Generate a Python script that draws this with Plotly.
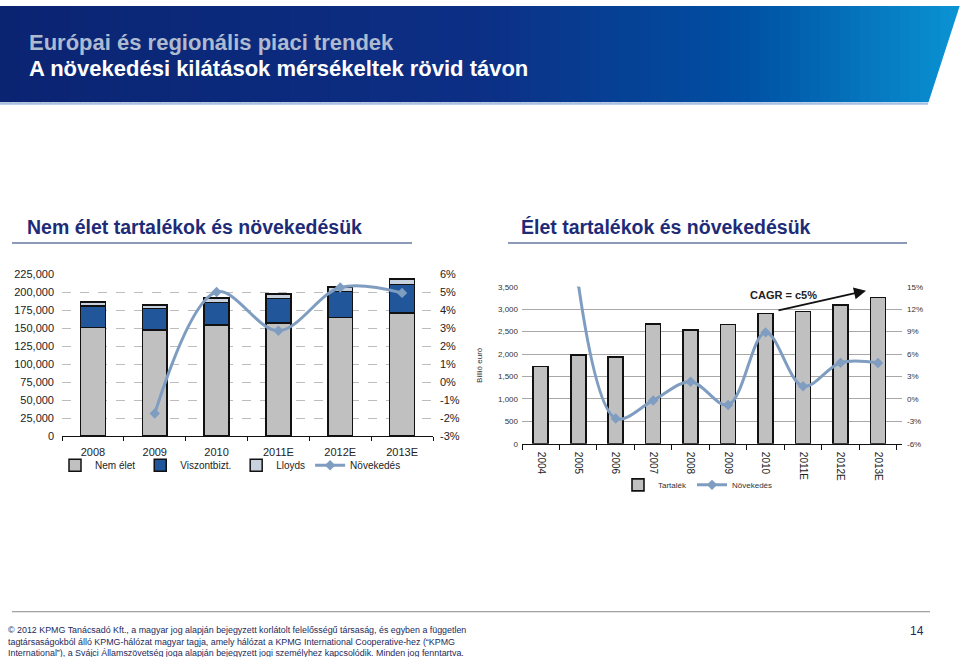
import plotly.graph_objects as go
from plotly.colors import sample_colorscale

# ---------------- data ----------------
left_years = ["2008", "2009", "2010", "2011E", "2012E", "2013E"]
nem_elet = [150400, 147300, 154500, 156800, 164500, 170900]
viszontbizt = [30500, 30000, 31000, 34500, 36000, 39500]
lloyds = [5000, 5000, 6000, 6000, 6800, 7400]
left_growth_years = ["2009", "2010", "2011E", "2012E", "2013E"]
left_growth = [-1.75, 5.0, 2.85, 5.25, 4.95]
left_pct_ticks = [-3, -2, -1, 0, 1, 2, 3, 4, 5, 6]
left_pct_labels = ["-3%", "-2%", "-1%", "0%", "1%", "2%", "3%", "4%", "5%", "6%"]

right_years = ["2004", "2005", "2006", "2007", "2008", "2009", "2010", "2011E", "2012E", "2013E"]
tartalek = [1720, 1985, 1940, 2670, 2540, 2655, 2905, 2945, 3100, 3260]
right_growth_years = ["2005", "2006", "2007", "2008", "2009", "2010", "2011E", "2012E", "2013E"]
right_growth = [15.5, -2.6, -0.2, 2.3, -0.8, 8.9, 1.7, 4.85, 4.8]
right_pct_ticks = [-6, -3, 0, 3, 6, 9, 12, 15]
right_pct_labels = ["-6%", "-3%", "0%", "3%", "6%", "9%", "12%", "15%"]

W, H = 960, 657
def px(x):
    return x / W
def py(y):
    return 1 - y / H

FONT = "Arial, Liberation Sans, sans-serif"
LINE_COL = "#7f9dc0"

fig = go.Figure()

# ---------------- left chart ----------------
fig.add_trace(go.Bar(x=left_years, y=nem_elet, name="Nem élet", marker=dict(color="#c0c0c0", line=dict(color="#111", width=1.5)),
                     xaxis="x", yaxis="y", legend="legend"))
fig.add_trace(go.Bar(x=left_years, y=viszontbizt, name="Viszontbizt.", marker=dict(color="#21579a", line=dict(color="#111", width=1.5)),
                     xaxis="x", yaxis="y", legend="legend"))
fig.add_trace(go.Bar(x=left_years, y=lloyds, name="Lloyds", marker=dict(color="#c8d2df", line=dict(color="#111", width=1.5)),
                     xaxis="x", yaxis="y", legend="legend"))
fig.add_trace(go.Scatter(x=left_growth_years, y=left_growth, name="Növekedés", mode="lines+markers",
                         line=dict(color=LINE_COL, width=3, shape="spline", smoothing=1),
                         marker=dict(symbol="diamond", size=8, color=LINE_COL),
                         xaxis="x", yaxis="y2", legend="legend"))

# ---------------- right chart ----------------
fig.add_trace(go.Bar(x=right_years, y=tartalek, name="Tartalék", marker=dict(color="#c0c0c0", line=dict(color="#111", width=1.6)),
                     xaxis="x2", yaxis="y3", legend="legend2"))
fig.add_trace(go.Scatter(x=right_growth_years, y=right_growth, name="Növekedés", mode="lines+markers",
                         line=dict(color=LINE_COL, width=3, shape="spline", smoothing=1),
                         marker=dict(symbol="diamond", size=8, color=LINE_COL),
                         xaxis="x2", yaxis="y4", legend="legend2"))

tickfont_l = dict(family=FONT, size=11, color="#222")
tickfont_r = dict(family=FONT, size=8, color="#333")

fig.update_layout(
    width=W, height=H, margin=dict(l=0, r=0, t=0, b=0),
    paper_bgcolor="white", plot_bgcolor="rgba(0,0,0,0)",
    barmode="stack", bargap=0.6,
    font=dict(family=FONT),
    xaxis=dict(domain=[px(62), px(433)], type="category", showline=True, linecolor="#111", linewidth=1,
               ticks="outside", tickson="boundaries", ticklen=4, tickcolor="#111", tickfont=tickfont_l,
               ticklabelstandoff=6, showgrid=False),
    yaxis=dict(domain=[py(438), py(273)], range=[0, 225000], dtick=25000, tickformat=",",
               showgrid=True, gridcolor="#bdbdbd", griddash="dash", gridwidth=1, zeroline=False,
               tickfont=tickfont_l, ticks="", showline=False, anchor="x", ticklabelstandoff=7),
    yaxis2=dict(overlaying="y", side="right", range=[-3, 6], tickvals=left_pct_ticks, ticktext=left_pct_labels,
                showgrid=False, zeroline=False, tickfont=tickfont_l, anchor="x", ticklabelstandoff=6),
    xaxis2=dict(domain=[px(522), px(902)], type="category", showline=True, linecolor="#111", linewidth=1,
                ticks="outside", tickson="boundaries", ticklen=5, tickcolor="#111", tickangle=90,
                tickfont=dict(family=FONT, size=10, color="#222"), showgrid=False, anchor="y3",
                ticklabelstandoff=5),
    yaxis3=dict(domain=[py(446), py(286)], range=[0, 3500], dtick=500, tickformat=",",
                showgrid=True, gridcolor="#a8a8a8", gridwidth=1, zeroline=False, tickfont=tickfont_r,
                anchor="x2", ticklabelstandoff=3,
                title=dict(text="Billió euró", font=dict(family=FONT, size=8, color="#333"), standoff=14)),
    yaxis4=dict(overlaying="y3", side="right", range=[-6, 15], tickvals=right_pct_ticks, ticktext=right_pct_labels,
                showgrid=False, zeroline=False, tickfont=tickfont_r, anchor="x2", ticklabelstandoff=4),
    legend=dict(orientation="h", x=px(55), y=py(453), xanchor="left", yanchor="top",
                font=dict(family=FONT, size=10, color="#222"), bgcolor="rgba(0,0,0,0)", traceorder="normal"),
    legend2=dict(orientation="h", x=px(618), y=py(473), xanchor="left", yanchor="top",
                 font=dict(family=FONT, size=8, color="#333"), bgcolor="rgba(0,0,0,0)", traceorder="normal"),
)

# ---------------- decoration ----------------
shapes = []
n = 96
cols = sample_colorscale([[0, "#0b2472"], [0.5, "#0c2f85"], [0.78, "#0050a3"], [1, "#0a92d2"]],
                         [i / (n - 1) for i in range(n)])
sw = W / n
for i, c in enumerate(cols):
    shapes.append(dict(type="rect", xref="paper", yref="paper", x0=px(i * sw), x1=px((i + 1) * sw + 0.6),
                       y0=py(98), y1=1, fillcolor=c, line=dict(width=0), layer="below"))
# diagonal cut on the right of the header
shapes.append(dict(type="path", xref="paper", yref="paper",
                   path=f"M {px(960)} {py(-1)} L {px(961)} {py(101)} L {px(927.5)} {py(101)} Z",
                   fillcolor="white", line=dict(width=0), layer="below"))
# thin light line under header
shapes.append(dict(type="line", xref="paper", yref="paper", x0=0, x1=px(928), y0=py(99.5), y1=py(99.5),
                   line=dict(color="#a7c0e2", width=2)))
# section underlines
for x0, x1 in [(12, 412), (508, 907)]:
    shapes.append(dict(type="line", xref="paper", yref="paper", x0=px(x0), x1=px(x1), y0=py(241.5), y1=py(241.5),
                       line=dict(color="#8c9ab8", width=2)))
# footer line
shapes.append(dict(type="line", xref="paper", yref="paper", x0=px(12), x1=px(930), y0=py(617), y1=py(617),
                   line=dict(color="#8a8a8a", width=1)))
fig.update_layout(shapes=shapes)

ann = []
ann.append(dict(text="Európai és regionális piaci trendek", x=px(27), y=py(37), xref="paper", yref="paper",
                xanchor="left", yanchor="middle", showarrow=False,
                font=dict(family=FONT, size=22, color="#aebad0", weight="bold")))
ann.append(dict(text="A növekedési kilátások mérsékeltek rövid távon", x=px(27), y=py(64), xref="paper", yref="paper",
                xanchor="left", yanchor="middle", showarrow=False,
                font=dict(family=FONT, size=22, color="white", weight="bold")))
ann.append(dict(text="Nem élet tartalékok és növekedésük", x=px(25), y=py(225.5), xref="paper", yref="paper",
                xanchor="left", yanchor="middle", showarrow=False,
                font=dict(family="Liberation Sans Narrow, Arial Narrow, " + FONT, size=19.5, color="#1e2c78", weight="bold")))
ann.append(dict(text="Élet tartalékok és növekedésük", x=px(519), y=py(225.5), xref="paper", yref="paper",
                xanchor="left", yanchor="middle", showarrow=False,
                font=dict(family="Liberation Sans Narrow, Arial Narrow, " + FONT, size=19.5, color="#1e2c78", weight="bold")))
ann.append(dict(text="CAGR = c5%", x=px(783), y=py(294), xref="paper", yref="paper",
                xanchor="center", yanchor="middle", showarrow=False,
                font=dict(family=FONT, size=11, color="#222", weight="bold")))
ann.append(dict(text="", x=px(866), y=py(290), ax=-89, ay=20, xref="paper", yref="paper",
                axref="pixel", ayref="pixel", showarrow=True, arrowhead=2, arrowsize=1.2, arrowwidth=2,
                arrowcolor="#111"))
footer = ("© 2012 KPMG Tanácsadó Kft., a magyar jog alapján bejegyzett korlátolt felelősségű társaság, és egyben a független<br>"
          "tagtársaságokból álló KPMG-hálózat magyar tagja, amely hálózat a KPMG International Cooperative-hez (“KPMG<br>"
          "International”), a Svájci Államszövetség joga alapján bejegyzett jogi személyhez kapcsolódik. Minden jog fenntartva.")
ann.append(dict(text=footer, x=px(6), y=py(647.5), xref="paper", yref="paper", xanchor="left", yanchor="middle",
                align="left", showarrow=False, font=dict(family=FONT, size=8.9, color="#1c2a5c")))
ann.append(dict(text="14", x=px(917), y=py(637), xref="paper", yref="paper", xanchor="center", yanchor="middle",
                showarrow=False, font=dict(family=FONT, size=12, color="#1c2a5c")))
fig.update_layout(annotations=ann)

fig.write_html("out.html", config={"displayModeBar": False},
               post_script="document.body.style.margin='0';document.body.style.padding='0';document.body.style.overflow='hidden';")
